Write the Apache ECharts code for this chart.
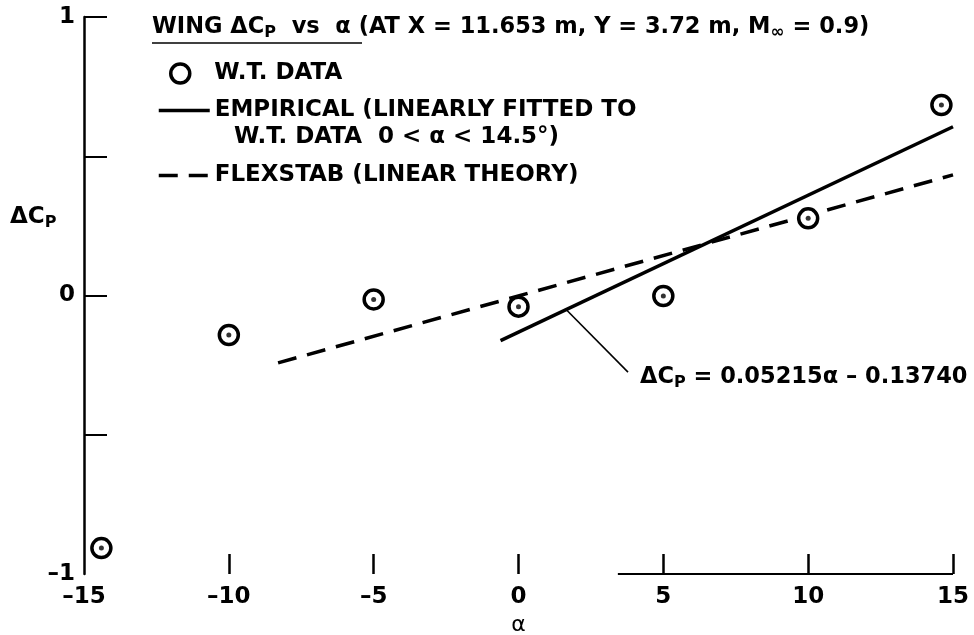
<!DOCTYPE html>
<html>
<head>
<meta charset="utf-8">
<script src="https://cdn.jsdelivr.net/npm/echarts@6/dist/echarts.min.js"></script>
<style>
html,body{margin:0;padding:0;background:#fff;}
#chart{width:974px;height:635px;}
</style>
</head>
<body>
<div id="chart"></div>
<script>
// ---- data ----
const wtAlpha = [-14.4, -10, -5, 0, 5, 10, 14.6];
const wtCp = [-0.907, -0.142, -0.014, -0.040, -0.002, 0.277, 0.684];
const empiricalAlpha = [-0.62, 15];
const empiricalCp = [-0.162, 0.606];
const flexAlpha = [-8.3, 15];
const flexCp = [-0.242, 0.433];
const leaderAlpha = [1.66, 3.78];
const leaderCp = [-0.052, -0.275];
const baseAlpha = [3.43, 15];
const baseCp = [-1, -1];
const xTickValues = [-10, -5, 0, 5, 10, 15];
const xLabelValues = [-15, -10, -5, 0, 5, 10, 15];
const yTickValues = [-0.5, 0, 0.5, 1];
const yLabelValues = [-1, 0, 1];
const titleText = '{u|WING ΔC}{p|P}{u|  vs  α}{n| (AT X = 11.653 m, Y = 3.72 m, M}{s|∞}{n| = 0.9)}';
const legendNames = ['W.T. DATA', 'EMPIRICAL (LINEARLY FITTED TO', 'FLEXSTAB (LINEAR THEORY)'];
const legendLine2 = 'W.T. DATA  0 < α < 14.5°)';
const fitLabel = '{b|ΔC}{p|P}{b| = 0.05215α – 0.13740}';

const FONT = "'DejaVu Sans', sans-serif";
const pairs = (xs, ys) => xs.map((x, i) => [x, ys[i]]);
const minus = v => (v < 0 ? '–' + Math.abs(v) : String(v));

const chart = echarts.init(document.getElementById('chart'), null, {renderer: 'canvas'});

const baseText = {fontFamily: FONT, fontWeight: 'bold', fontSize: 23, color: '#000'};
const titleBase = {fontFamily: FONT, fontWeight: 'bold', fontSize: 22.5, color: '#000', lineHeight: 30};
const smallP = {fontFamily: FONT, fontWeight: 'bold', fontSize: 16, color: '#000', padding: [12, 0, 0, 0], lineHeight: 30};

const option = {
  animation: false,
  backgroundColor: '#fff',
  title: {
    text: titleText,
    left: 152, top: 12, padding: 0,
    textStyle: {
      rich: {
        u: titleBase,
        p: smallP,
        n: titleBase,
        s: Object.assign({}, titleBase, {fontSize: 17, padding: [12, 0, 0, 0]})
      }
    }
  },
  legend: [
    {
      data: [legendNames[0]], left: 164, top: 57, itemWidth: 58, itemHeight: 19,
      icon: 'circle',
      itemStyle: {color: '#fff', borderColor: '#000', borderWidth: 3.5},
      textStyle: baseText, selectedMode: false
    },
    {
      data: [legendNames[1]], left: 152, top: 94, itemWidth: 51, itemHeight: 20,
      lineStyle: {width: 3.5, color: '#000', type: 'solid'},
      itemStyle: {color: 'rgba(0,0,0,0)', borderWidth: 0, opacity: 0},
      textStyle: baseText, selectedMode: false
    },
    {
      data: [legendNames[2]], left: 152, top: 159, itemWidth: 51, itemHeight: 20,
      lineStyle: {width: 3.5, color: '#000', type: [19, 11]},
      itemStyle: {color: 'rgba(0,0,0,0)', borderWidth: 0, opacity: 0},
      textStyle: baseText, selectedMode: false
    }
  ],
  graphic: [
    {type: 'line', shape: {x1: 152, y1: 43, x2: 362, y2: 43}, style: {stroke: '#000', lineWidth: 1.5}},
    {type: 'text', left: 234, top: 126, style: {text: legendLine2, font: "bold 23px 'DejaVu Sans'", fill: '#000'}},
    {type: 'text', left: 10, top: 203, style: {
      text: '{b|ΔC}{p|P}',
      rich: {b: Object.assign({}, baseText, {lineHeight: 30}), p: smallP}
    }}
  ],
  grid: {left: 84, right: 21, top: 17, bottom: 61, containLabel: false, outerBoundsMode: 'none'},
  xAxis: {
    type: 'value', min: -15, max: 15, interval: 5,
    axisLine: {show: false, onZero: false},
    axisTick: {show: true, inside: true, length: 20, customValues: xTickValues, lineStyle: {color: '#000', width: 2.5}},
    axisLabel: {customValues: xLabelValues, formatter: minus, margin: 12, fontFamily: FONT, fontWeight: 'bold', fontSize: 23, color: '#000', hideOverlap: false},
    splitLine: {show: false},
    name: 'α', nameLocation: 'middle', nameGap: 38,
    nameTextStyle: {fontFamily: FONT, fontSize: 22, color: '#000'}
  },
  yAxis: {
    type: 'value', min: -1, max: 1, interval: 0.5,
    axisLine: {show: true, onZero: false, lineStyle: {color: '#000', width: 2.5}},
    axisTick: {show: true, inside: true, length: 23, customValues: yTickValues, lineStyle: {color: '#000', width: 2}},
    axisLabel: {customValues: yLabelValues, formatter: minus, margin: 9, fontFamily: FONT, fontWeight: 'bold', fontSize: 23, color: '#000', hideOverlap: false},
    splitLine: {show: false}
  },
  series: [
    {
      name: legendNames[1], type: 'line', data: pairs(empiricalAlpha, empiricalCp),
      symbol: 'none', itemStyle: {color: '#000'}, lineStyle: {color: '#000', width: 3.5}, z: 2, silent: true
    },
    {
      name: legendNames[2], type: 'line', data: pairs(flexAlpha, flexCp),
      symbol: 'none', itemStyle: {color: '#000'}, lineStyle: {color: '#000', width: 3.5, type: [19, 11]}, z: 2, silent: true
    },
    {
      name: 'leader', type: 'line', data: pairs(leaderAlpha, leaderCp),
      symbol: 'none', itemStyle: {color: '#000'}, lineStyle: {color: '#000', width: 1.6}, z: 2, silent: true,
      endLabel: {
        show: true, distance: 12, offset: [0, 5],
        formatter: fitLabel,
        rich: {b: Object.assign({}, baseText, {fontSize: 22.5, lineHeight: 30}), p: smallP}
      }
    },
    {
      name: 'axisBase', type: 'line', data: pairs(baseAlpha, baseCp), clip: false,
      symbol: 'none', itemStyle: {color: '#000'}, lineStyle: {color: '#000', width: 2}, z: 2, silent: true
    },
    {
      name: legendNames[0], type: 'scatter', data: pairs(wtAlpha, wtCp),
      symbol: 'circle', symbolSize: 19,
      itemStyle: {color: '#fff', borderColor: '#000', borderWidth: 3.5, opacity: 1}, z: 4, silent: true
    },
    {
      name: 'dot', type: 'scatter', data: pairs(wtAlpha, wtCp),
      symbol: 'circle', symbolSize: 5,
      itemStyle: {color: '#000'}, z: 5, silent: true
    }
  ]
};
chart.setOption(option);
</script>
</body>
</html>
